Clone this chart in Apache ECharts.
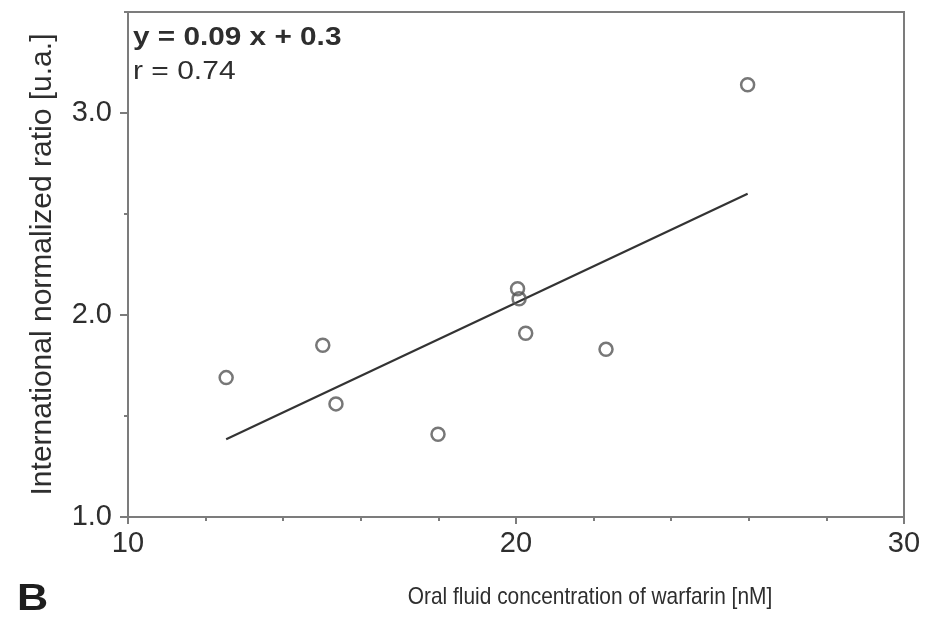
<!DOCTYPE html>
<html>
<head>
<meta charset="utf-8">
<script src="https://cdn.jsdelivr.net/npm/echarts@6/dist/echarts.min.js"></script>
<style>
  html, body { margin: 0; padding: 0; background: #fff; }
  #chart { width: 944px; height: 619px; }
</style>
</head>
<body>
<div id="chart"></div>
<script>
// Warfarin in oral fluid vs. INR
const warfarinNM = [12.53, 15.02, 15.36, 17.99, 20.04, 20.08, 20.25, 22.32, 25.97];
const inrValues  = [1.69, 1.85, 1.56, 1.41, 2.13, 2.08, 1.91, 1.83, 3.14];
const xTickLabels = ['10', '20', '30'];
const yTickLabels = ['1.0', '2.0', '3.0'];
const fitText = 'y = 0.09 x + 0.3';
const rText = 'r = 0.74';

// least-squares fit drawn across the span of the measurements
const n = warfarinNM.length;
const mx = warfarinNM.reduce((a, b) => a + b, 0) / n;
const my = inrValues.reduce((a, b) => a + b, 0) / n;
let sxy = 0, sxx = 0;
for (let i = 0; i < n; i++) {
  sxy += (warfarinNM[i] - mx) * (inrValues[i] - my);
  sxx += (warfarinNM[i] - mx) * (warfarinNM[i] - mx);
}
const slope = sxy / sxx;
const intercept = my - slope * mx;
const xLo = Math.min(...warfarinNM), xHi = Math.max(...warfarinNM);
const fitLine = [[xLo, intercept + slope * xLo], [xHi, intercept + slope * xHi]];

const FONT = '"Liberation Sans", Arial, Helvetica, sans-serif';
const AXIS = '#7c7c7c';
const TEXT = '#2e2e2e';

const chart = echarts.init(document.getElementById('chart'), null, { renderer: 'canvas' });
chart.setOption({
  animation: false,
  backgroundColor: '#ffffff',
  grid: {
    left: 128, right: 40, top: 12, bottom: 102,
    show: true, borderColor: AXIS, borderWidth: 2, backgroundColor: 'transparent'
  },
  xAxis: {
    type: 'value', min: 10, max: 30, interval: 10,
    axisLine: { show: true, lineStyle: { color: AXIS, width: 2 } },
    axisTick: { show: true, inside: false, length: 7, lineStyle: { color: AXIS, width: 2 } },
    minorTick: { show: true, splitNumber: 5, length: 4, lineStyle: { color: AXIS, width: 2 } },
    splitLine: { show: false },
    axisLabel: {
      margin: 12, color: TEXT, fontFamily: FONT, fontSize: 29,
      formatter: v => xTickLabels[Math.round((v - 10) / 10)] ?? ''
    }
  },
  yAxis: [
    {
      type: 'value', min: 1, max: 3.5, interval: 1,
      axisLine: { show: true, lineStyle: { color: AXIS, width: 2 } },
      axisTick: { show: true, inside: false, length: 8, lineStyle: { color: AXIS, width: 2 } },
      splitLine: { show: false },
      axisLabel: {
        margin: 16, color: TEXT, fontFamily: FONT, fontSize: 29, showMaxLabel: false,
        formatter: v => (Number.isInteger(v) ? (yTickLabels[v - 1] ?? '') : '')
      },
      name: 'International normalized ratio [u.a.]',
      nameLocation: 'middle', nameRotate: 90, nameGap: 70,
      nameTextStyle: { color: TEXT, fontFamily: FONT, fontSize: 30 }
    },
    {
      // half-unit minor marks on the left spine
      type: 'value', min: 1, max: 3.5, interval: 0.5, position: 'left',
      axisLine: { show: false },
      axisTick: { show: true, inside: false, length: 4, lineStyle: { color: AXIS, width: 2 } },
      axisLabel: { show: false },
      splitLine: { show: false }
    }
  ],
  graphic: [
    { type: 'text', x: 133, y: 38, scaleX: 1.19,
      style: { text: fitText, font: 'bold 25px ' + FONT, fill: TEXT, verticalAlign: 'middle' } },
    { type: 'text', x: 133, y: 72, scaleX: 1.2,
      style: { text: rText, font: '25px ' + FONT, fill: TEXT, verticalAlign: 'middle' } },
    { type: 'text', x: 590, y: 597, scaleX: 0.87,
      style: { text: 'Oral fluid concentration of warfarin [nM]', font: '24px ' + FONT,
               fill: TEXT, align: 'center', verticalAlign: 'middle' } },
    { type: 'text', x: 17, y: 600, scaleX: 1.2,
      style: { text: 'B', font: 'bold 36px ' + FONT, fill: '#1e1e1e', align: 'left', verticalAlign: 'middle' } }
  ],
  series: [
    {
      type: 'line', data: fitLine, showSymbol: false, symbol: 'none',
      lineStyle: { color: '#333', width: 2.2 }, z: 2, silent: true
    },
    {
      type: 'scatter', data: warfarinNM.map((x, i) => [x, inrValues[i]]),
      symbol: 'circle', symbolSize: 13,
      itemStyle: { color: 'rgba(255,255,255,0)', borderColor: '#555', borderWidth: 2.5 },
      z: 3, silent: true
    }
  ]
});
</script>
</body>
</html>
